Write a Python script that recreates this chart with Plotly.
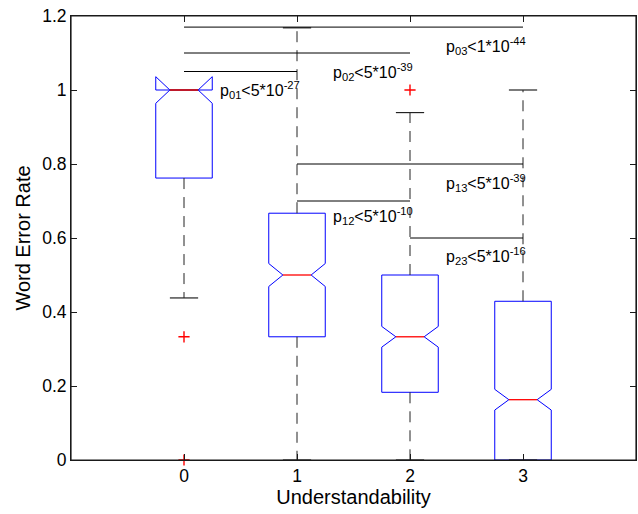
import plotly.graph_objects as go

# ---- data ----
categories = [0, 1, 2, 3]
q1 = [0.762, 0.333, 0.183, 0.0]
medians = [1.0, 0.5, 0.333, 0.163]
q3 = [1.0, 0.667, 0.5, 0.429]
notch_span = [0.036, 0.031, 0.028, 0.028]
lower_whisker = [0.438, 0.0, 0.0, 0.0]
upper_whisker = [1.0, 1.168, 0.939, 1.0]
outlier_x = [0, 0, 2]
outlier_y = [0.333, 0.0, 1.0]

pairs = [(0, 1), (0, 2), (0, 3), (1, 2), (1, 3), (2, 3)]
pair_heights = [1.05, 1.10, 1.17, 0.70, 0.80, 0.60]
pair_labels = ["p<sub>01</sub><5*10<sup>-27</sup>", "p<sub>02</sub><5*10<sup>-39</sup>",
               "p<sub>03</sub><1*10<sup>-44</sup>", "p<sub>12</sub><5*10<sup>-10</sup>",
               "p<sub>13</sub><5*10<sup>-39</sup>", "p<sub>23</sub><5*10<sup>-16</sup>"]
label_y = [1.0, 1.05, 1.12, 0.66, 0.75, 0.552]

y_ticks = [0, 0.2, 0.4, 0.6, 0.8, 1.0, 1.2]
y_tick_text = ["0", "0.2", "0.4", "0.6", "0.8", "1", "1.2"]

# ---- style ----
HALF_W = 0.25      # half box width (data units)
INNER = 0.125      # notch inner half width
CAP_HALF = 0.125
LABEL_DX = -0.7
FONT = "Liberation Sans, Arial, Helvetica, sans-serif"
AX_COLOR = "#1a1a1a"

fig = go.Figure()

# boxes with notches (outline polygons computed from the stats)
bx, by = [], []
for c, a, m, b, n in zip(categories, q1, medians, q3, notch_span):
    L, R = c - HALF_W, c + HALF_W
    bx += [L, L, c - INNER, L, L, R, R, c + INNER, R, R, L, None]
    by += [a, m - n, m, m + n, b, b, m + n, m, m - n, a, a, None]
fig.add_trace(go.Scatter(x=bx, y=by, mode="lines",
                         line=dict(color="#0000FF", width=1),
                         showlegend=False, hoverinfo="skip"))

# whiskers (dashed)
wx, wy = [], []
for c, a, b, lo, hi in zip(categories, q1, q3, lower_whisker, upper_whisker):
    wx += [c, c, None, c, c, None]
    wy += [b, hi, None, a, lo, None]
fig.add_trace(go.Scatter(x=wx, y=wy, mode="lines",
                         line=dict(color="#222222", width=1, dash="11px,8px"),
                         showlegend=False, hoverinfo="skip"))

# whisker caps
cx, cy = [], []
for c, lo, hi in zip(categories, lower_whisker, upper_whisker):
    cx += [c - CAP_HALF, c + CAP_HALF, None, c - CAP_HALF, c + CAP_HALF, None]
    cy += [hi, hi, None, lo, lo, None]
fig.add_trace(go.Scatter(x=cx, y=cy, mode="lines",
                         line=dict(color="#222222", width=1.2),
                         showlegend=False, hoverinfo="skip", cliponaxis=False))

# medians (red)
mx, my = [], []
for c, m in zip(categories, medians):
    mx += [c - INNER, c + INNER, None]
    my += [m, m, None]
fig.add_trace(go.Scatter(x=mx, y=my, mode="lines",
                         line=dict(color="#FF0000", width=1.3),
                         showlegend=False, hoverinfo="skip"))

# outliers
fig.add_trace(go.Scatter(x=outlier_x, y=outlier_y, mode="markers",
                         marker=dict(symbol="cross-thin", size=8,
                                     line=dict(color="#FF0000", width=1.4)),
                         showlegend=False, hoverinfo="skip", cliponaxis=False))

# significance lines
sx, sy = [], []
for (i, j), h in zip(pairs, pair_heights):
    sx += [categories[i], categories[j], None]
    sy += [h, h, None]
fig.add_trace(go.Scatter(x=sx, y=sy, mode="lines",
                         line=dict(color="#000000", width=1),
                         showlegend=False, hoverinfo="skip"))

for (i, j), txt, ly in zip(pairs, pair_labels, label_y):
    fig.add_annotation(x=categories[j] + LABEL_DX, y=ly, text=txt,
                       xref="x", yref="y", xanchor="left", yanchor="middle",
                       showarrow=False, font=dict(family=FONT, size=16, color="#000"))

# axes frame (box on)
fig.add_shape(type="rect", xref="paper", yref="paper", x0=0, x1=1, y0=0, y1=1,
              line=dict(color=AX_COLOR, width=1.2), fillcolor="rgba(0,0,0,0)", layer="above")

axis_common = dict(showline=True, linecolor=AX_COLOR, linewidth=1, mirror="ticks",
                   ticks="inside", ticklen=6, tickcolor=AX_COLOR,
                   showgrid=False, zeroline=False, ticklabeloverflow="allow",
                   tickfont=dict(family=FONT, size=17.5, color="#000"))

fig.update_layout(
    width=638, height=514,
    margin=dict(l=71, r=2, t=16, b=54),
    plot_bgcolor="white", paper_bgcolor="white",
    showlegend=False,
    xaxis=dict(range=[-1, 4], tickvals=categories, ticktext=[str(c) for c in categories],
               title=dict(text="Understandability", font=dict(family=FONT, size=20, color="#000"),
                          standoff=0),
               **axis_common),
    yaxis=dict(range=[0, 1.2], tickvals=y_ticks, ticktext=y_tick_text,
               title=dict(text="Word Error Rate", font=dict(family=FONT, size=20, color="#000"),
                          standoff=6),
               **axis_common),
)

fig.write_html("out.html", config={"displayModeBar": False},
               post_script="document.body.style.margin='0';document.body.style.overflow='hidden';")
